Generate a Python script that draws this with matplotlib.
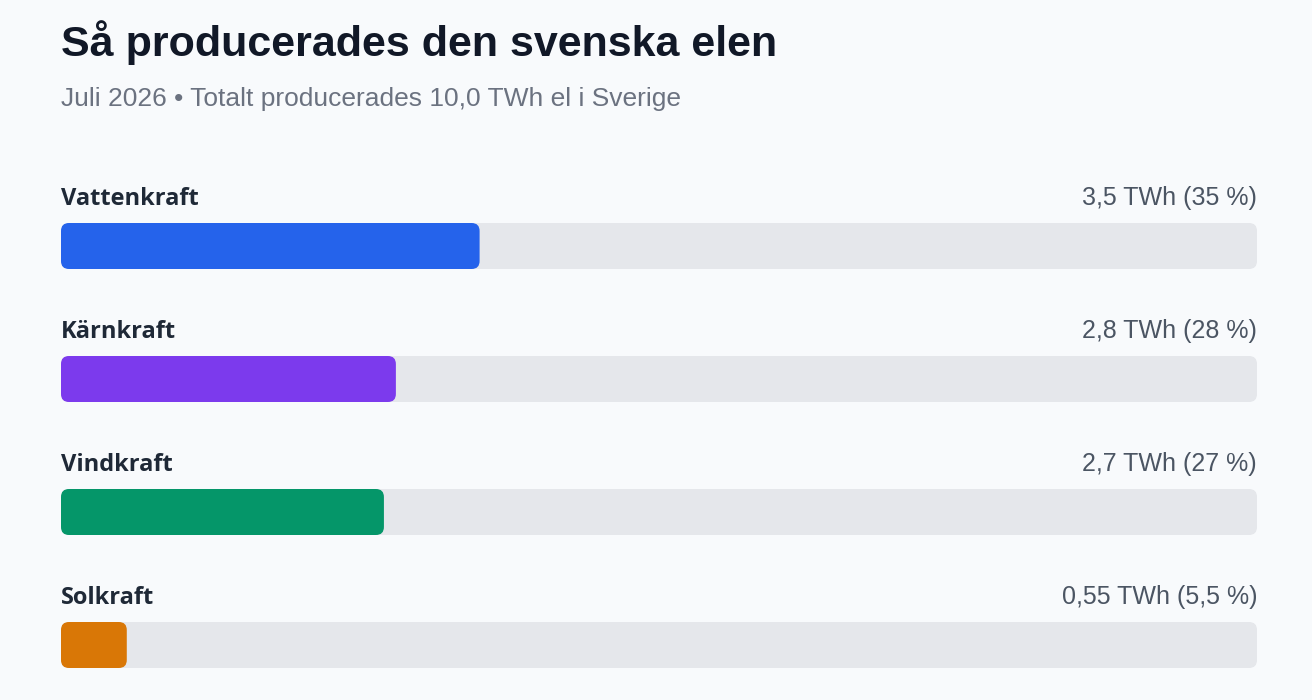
import numpy as np
import matplotlib
matplotlib.use("Agg")
import matplotlib.pyplot as plt
from matplotlib.patches import FancyBboxPatch

# data
sources = ["Vattenkraft", "Kärnkraft", "Vindkraft", "Solkraft"]
twh = [3.5, 2.8, 2.7, 0.55]
share = [35, 28, 27, 5.5]
value_labels = ["3,5 TWh (35 %)", "2,8 TWh (28 %)", "2,7 TWh (27 %)", "0,55 TWh (5,5 %)"]
colors = ["#2563eb", "#7c3aed", "#059669", "#d97706"]

title = "Så producerades den svenska elen"
subtitle = "Juli 2026 • Totalt producerades 10,0 TWh el i Sverige"

W, H = 1312, 700
bg = "#f8fafc"
track = "#e5e7eb"
sans = ["Liberation Sans", "DejaVu Sans"]

fig = plt.figure(figsize=(W / 100, H / 100), dpi=100, facecolor=bg)

# axes spanning the track width; x in percent, y in pixels from top
x0, x1 = 61, 1257
ax = fig.add_axes([x0 / W, 0, (x1 - x0) / W, 1])
ax.set_xlim(0, 100)
ax.set_ylim(H, 0)
ax.axis("off")
ax.patch.set_alpha(0)

px_x = 100 / (x1 - x0)  # data units per pixel in x
aspect = 1 / px_x
bar_h = 46
radius = 8

for i, (name, s, lab, c) in enumerate(zip(sources, share, value_labels, colors)):
    yc = 246 + 133 * i
    # background track
    ax.add_patch(FancyBboxPatch((0, yc - bar_h / 2), 100, bar_h,
                                boxstyle=f"round,pad=0,rounding_size={radius * px_x}",
                                mutation_aspect=aspect, fc=track, ec="none"))
    ax.add_patch(FancyBboxPatch((0, yc - bar_h / 2), s, bar_h,
                                boxstyle=f"round,pad=0,rounding_size={radius * px_x}",
                                mutation_aspect=aspect, fc=c, ec="none"))
    ax.text(0, yc - 41, name, fontsize=17, fontweight="bold", color="#1f2937",
            family=["Open Sans", "DejaVu Sans"], ha="left", va="baseline")
    ax.text(100, yc - 41, lab, fontsize=18, color="#4b5563",
            family=sans, ha="right", va="baseline")

fig.text(x0 / W, 1 - 56 / H, title, fontsize=31, fontweight="bold", color="#111827",
         family=sans, ha="left", va="baseline")
fig.text(x0 / W, 1 - 106 / H, subtitle, fontsize=19, color="#6b7280",
         family=sans, ha="left", va="baseline")

fig.savefig("out.png", dpi=100, facecolor=bg)
